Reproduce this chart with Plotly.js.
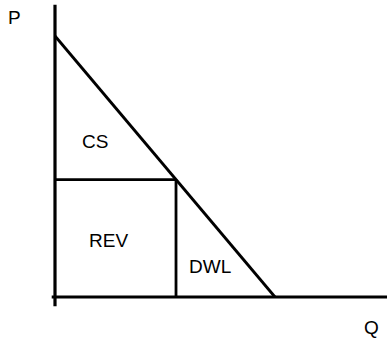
<!DOCTYPE html>
<html>
<head>
<meta charset="utf-8">
<script src="https://cdn.plot.ly/plotly-3.0.1.min.js"></script>
<style>html,body{margin:0;padding:0;background:#fff;}#chart{width:387px;height:341px;}</style>
</head>
<body>
<div id="chart"></div>
<script>
// Demand curve: P = 10 - Q
var demandQ = [0, 10];
var demandP = [10, 0];
// Equilibrium (monopoly) point
var eqQ = 5.5;
var eqP = 4.5;
// Axes extents
var yAxisQ = [0, 0];
var yAxisP = [-0.35, 11.2];
var xAxisQ = [-0.15, 15.2];
var xAxisP = [0, 0];
// Labels
var axisLabels = ["P", "Q"];
var areaLabels = ["CS", "REV", "DWL"];

var lineStyle = {color: "#000", width: 2.8};
var axisStyle = {color: "#000", width: 3.2};

var traces = [
  {x: yAxisQ, y: yAxisP, mode: "lines", line: axisStyle, hoverinfo: "skip"},
  {x: xAxisQ, y: xAxisP, mode: "lines", line: axisStyle, hoverinfo: "skip"},
  {x: demandQ, y: demandP, mode: "lines", line: lineStyle, hoverinfo: "skip"},
  {x: [0, eqQ], y: [eqP, eqP], mode: "lines", line: lineStyle, hoverinfo: "skip"},
  {x: [eqQ, eqQ], y: [0, eqP], mode: "lines", line: lineStyle, hoverinfo: "skip"}
];

var font = {family: "Liberation Sans, Arial, sans-serif", size: 19, color: "#000"};
var annotations = [
  {x: -1.82, y: 10.69, text: axisLabels[0]},
  {x: 14.4, y: -1.15, text: axisLabels[1]},
  {x: 1.8, y: 5.95, text: areaLabels[0]},
  {x: 2.42, y: 2.15, text: areaLabels[1]},
  {x: 7.05, y: 1.15, text: areaLabels[2]}
].map(function(a){
  return {x: a.x, y: a.y, text: a.text, showarrow: false, font: font,
          xanchor: "center", yanchor: "middle"};
});

var layout = {
  width: 387, height: 341,
  margin: {l: 0, r: 0, t: 0, b: 0, pad: 0},
  paper_bgcolor: "#fff", plot_bgcolor: "#fff",
  showlegend: false,
  xaxis: {range: [-2.5, 15.09], visible: false, fixedrange: true},
  yaxis: {range: [-1.686, 11.379], visible: false, fixedrange: true},
  annotations: annotations
};

Plotly.newPlot("chart", traces, layout, {staticPlot: true, displayModeBar: false});
</script>
</body>
</html>
